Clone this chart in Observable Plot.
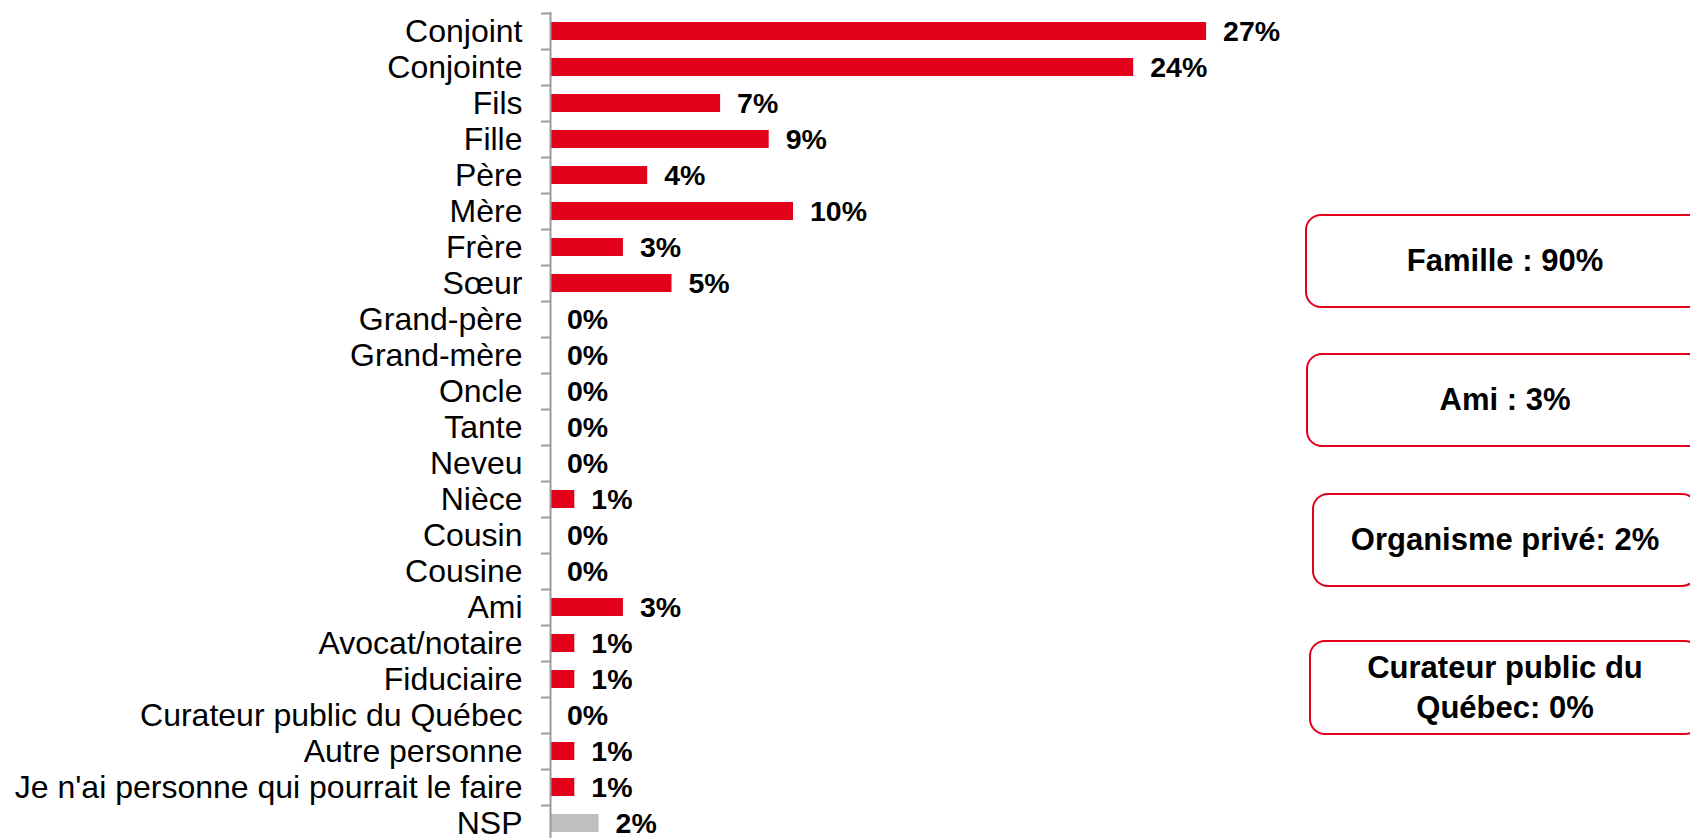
<!DOCTYPE html>
<html><head><meta charset="utf-8">
<script src="https://cdn.jsdelivr.net/npm/d3@7"></script>
<script src="https://cdn.jsdelivr.net/npm/@observablehq/plot@0.6"></script>
<style>
html,body{margin:0;padding:0;background:#fff;overflow:hidden;}
#wrap{position:relative;width:1690px;height:838px;overflow:hidden;font-family:"Liberation Sans",Arial,sans-serif;}
#wrap svg{position:absolute;left:0;top:0;}
.box{position:absolute;box-sizing:border-box;border:2px solid #E2001A;border-radius:16px;display:flex;align-items:center;justify-content:center;text-align:center;font-weight:bold;font-size:31px;line-height:40px;white-space:pre-line;color:#000;background:#fff;}
</style></head><body><div id="wrap"></div>
<script>
const categories = ["Conjoint","Conjointe","Fils","Fille","Père","Mère","Frère","Sœur","Grand-père","Grand-mère","Oncle","Tante","Neveu","Nièce","Cousin","Cousine","Ami","Avocat/notaire","Fiduciaire","Curateur public du Québec","Autre personne","Je n'ai personne qui pourrait le faire","NSP"];
const values = [27,24,7,9,4,10,3,5,0,0,0,0,0,1,0,0,3,1,1,0,1,1,2];
const neutralCategories = ["NSP"];
const groupLabels = ["Famille : 90%","Ami : 3%","Organisme privé: 2%","Curateur public du\nQuébec: 0%"];

const data = categories.map((c, i) => ({category: c, value: values[i], neutral: neutralCategories.includes(c)}));

const plot = Plot.plot({
  width: 1690, height: 842,
  marginLeft: 550, marginRight: 411, marginTop: 12, marginBottom: 0,
  style: {fontFamily: '"Liberation Sans", Arial, sans-serif', background: "transparent", color: "#000", overflow: "visible"},
  x: {domain: [0, 30], axis: null},
  y: {domain: categories, paddingInner: 0.5, paddingOuter: 0.25, axis: null},
  marks: [
    Plot.barX(data.filter(d => !d.neutral), {x: "value", y: "category", fill: "#E2001A"}),
    Plot.barX(data.filter(d => d.neutral), {x: "value", y: "category", fill: "#BFBFBF"}),
    Plot.ruleX([0], {stroke: "#9a9a9a", strokeWidth: 2}),
    Plot.axisY({tickSize: 9, tickFormat: () => "", label: null, dy: -18, stroke: "#9a9a9a", strokeWidth: 2, strokeOpacity: 1}),
    Plot.axisY({tickSize: 0, tickPadding: 28, label: null, fontSize: 32, fill: "#000"}),
    Plot.text(data, {x: "value", y: "category", text: d => d.value + "%", dx: 16.5, textAnchor: "start", fontWeight: "bold", fontSize: 28.5, fill: "#000"})
  ]
});
const wrap = document.getElementById("wrap");
wrap.appendChild(plot);

const boxPos = [
  {left: 1305, top: 214, height: 94},
  {left: 1306, top: 353, height: 94},
  {left: 1312, top: 493, height: 94},
  {left: 1309, top: 640, height: 95}
];
groupLabels.forEach((t, i) => {
  const b = document.createElement("div");
  b.className = "box";
  b.textContent = t;
  b.style.left = boxPos[i].left + "px";
  b.style.top = boxPos[i].top + "px";
  b.style.height = boxPos[i].height + "px";
  b.style.width = (2 * 1505 - 2 * boxPos[i].left) + "px";
  wrap.appendChild(b);
});
</script></body></html>
